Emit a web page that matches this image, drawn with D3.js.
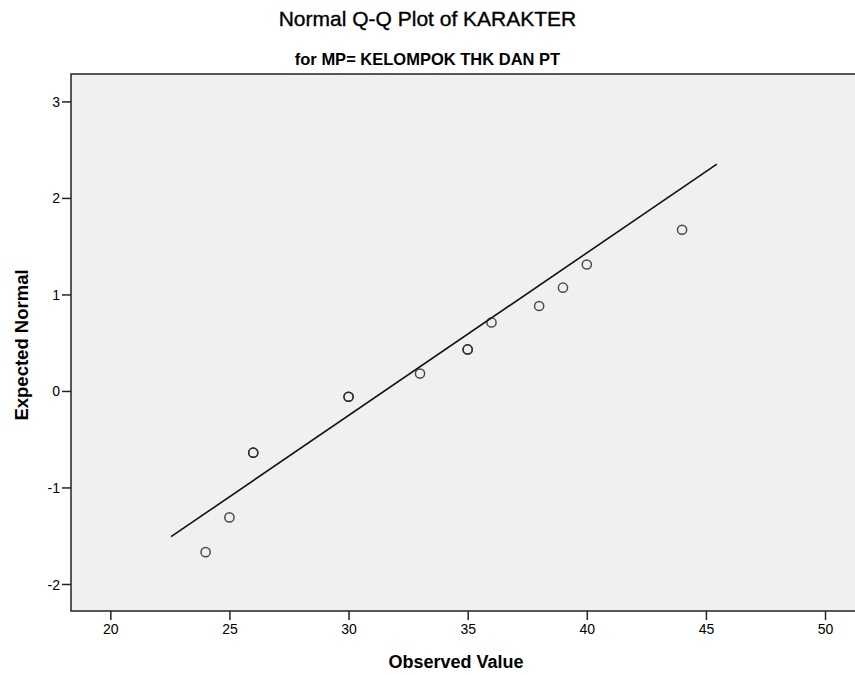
<!DOCTYPE html>
<html>
<head>
<meta charset="utf-8">
<script src="https://cdn.jsdelivr.net/npm/d3@7/dist/d3.min.js"></script>
<style>
  body { margin: 0; background: #fff; }
  svg text { font-family: "Liberation Sans Narrow", "Liberation Sans", Arial, sans-serif; fill: #000; }
</style>
</head>
<body>
<svg id="chart" width="855" height="675"></svg>
<script>
// observed values and their expected normal scores (ties drawn twice)
const observed = [24, 25, 26, 26, 30, 30, 33, 35, 35, 36, 38, 39, 40, 44];
const expectedNormal = [-1.67, -1.31, -0.64, -0.64, -0.06, -0.06, 0.18, 0.43, 0.43, 0.71, 0.88, 1.07, 1.31, 1.67];
// reference line end points
const lineX = [22.55, 45.46];
const lineY = [-1.51, 2.35];
const xTicks = [20, 25, 30, 35, 40, 45, 50];
const yTicks = [-2, -1, 0, 1, 2, 3];

const plot = { left: 71, top: 74, right: 856, bottom: 611 };

const svg = d3.select("#chart");

const x = d3.scaleLinear().domain([18.35, 51.3]).range([plot.left, plot.right]);
const y = d3.scaleLinear().domain([-2.28, 3.284]).range([plot.bottom, plot.top]);

// plot background
svg.append("rect")
  .attr("x", plot.left).attr("y", plot.top)
  .attr("width", plot.right - plot.left).attr("height", plot.bottom - plot.top)
  .attr("fill", "#f0f0f0");

// frame lines
svg.append("path")
  .attr("d", `M${plot.right},${plot.top}H${plot.left}V${plot.bottom}H${plot.right}`)
  .attr("fill", "none").attr("stroke", "#222").attr("stroke-width", 1.5);

// axes (plain hyphen for negatives, like SPSS)
const fmt = d => String(d);
const xAxis = svg.append("g")
  .attr("transform", `translate(0,${plot.bottom})`)
  .call(d3.axisBottom(x).tickValues(xTicks).tickSize(9).tickPadding(3).tickFormat(fmt));
const yAxis = svg.append("g")
  .attr("transform", `translate(${plot.left},0)`)
  .call(d3.axisLeft(y).tickValues(yTicks).tickSize(9).tickPadding(2).tickFormat(fmt));
[xAxis, yAxis].forEach(g => {
  g.select(".domain").remove();
  g.selectAll(".tick line").attr("stroke", "#222").attr("stroke-width", 1.5);
  g.selectAll(".tick text").attr("font-size", 14).attr("fill", "#000");
});
xAxis.selectAll(".tick text").attr("dy", "0.75em");
yAxis.selectAll(".tick text").attr("dy", "0.36em");

// reference line
svg.append("line")
  .attr("x1", x(lineX[0])).attr("y1", y(lineY[0]))
  .attr("x2", x(lineX[1])).attr("y2", y(lineY[1]))
  .attr("stroke", "#111").attr("stroke-width", 1.6);

// points
svg.append("g").selectAll("circle")
  .data(observed.map((v, i) => [v, expectedNormal[i]]))
  .join("circle")
  .attr("cx", d => x(d[0]))
  .attr("cy", d => y(d[1]))
  .attr("r", 4.6)
  .attr("fill", "none")
  .attr("stroke", "#222")
  .attr("stroke-opacity", 0.8)
  .attr("stroke-width", 1.5);

// titles
svg.append("text")
  .attr("x", 427.5).attr("y", 26)
  .attr("text-anchor", "middle")
  .attr("font-size", 21)
  .attr("stroke", "#000").attr("stroke-width", 0.35)
  .text("Normal Q-Q Plot of KARAKTER");
svg.append("text")
  .attr("x", 427.5).attr("y", 65)
  .attr("text-anchor", "middle")
  .attr("font-size", 16.5).attr("font-weight", "bold")
  .text("for MP= KELOMPOK THK DAN PT");
svg.append("text")
  .attr("x", 456).attr("y", 668)
  .attr("text-anchor", "middle")
  .attr("font-size", 18).attr("font-weight", "bold")
  .text("Observed Value");
svg.append("text")
  .attr("transform", "translate(28,345) rotate(-90)")
  .attr("text-anchor", "middle")
  .attr("font-size", 18.5).attr("font-weight", "bold")
  .text("Expected Normal");
</script>
</body>
</html>
